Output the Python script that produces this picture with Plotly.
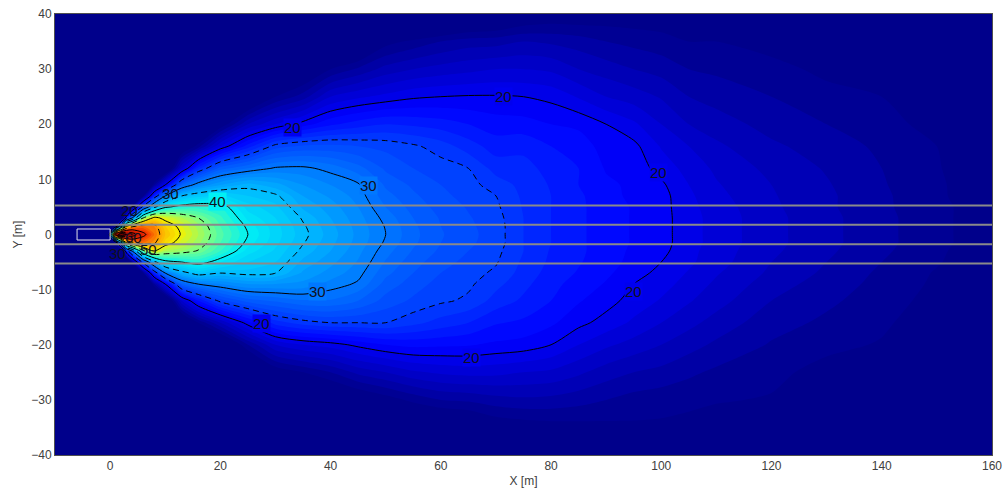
import numpy as np
import plotly.graph_objects as go

x_m = [-10, -0.5, 0.5, 1, 2, 3, 4, 6, 8, 10, 13, 16, 20, 25, 30, 35, 40, 45, 50, 55, 60, 65, 70, 75, 80, 85, 90, 95, 100, 105, 110, 120, 130, 140, 150, 160]
y_m = [40, 35, 30, 25, 20, 16, 12, 9, 7, 5, 3, 1.5, 0, -1.5, -3, -5, -7, -9, -12, -16, -20, -25, -30, -35, -40]

# level (dB) read at each y_m, one row for each x_m
level_by_x = [
 [5,5,5,5,5,5,5,5,5,5,5,5,5, 5,5,5,5,5,5,5,5,5,5,5,5],
 [5,5,5,5,5,5,5,5,5,5,5,5,5, 5,5,5,5,5,5,5,5,5,5,5,5],
 [5,5,5,5,5,5,5,5,5,5,5,8,50, 8,5,5,5,5,5,5,5,5,5,5,5],
 [5,5,5,5,5,5,5,5,5,5,5,16,65, 16,5,5,5,5,5,5,5,5,5,5,5],
 [5,5,5,5,5,5,5,5,5,5,10,32,75, 32,10,5,5,5,5,5,5,5,5,5,5],
 [5,5,5,5,5,5,5,5,5,8,23,50,70, 50,23,8,5,5,5,5,5,5,5,5,5],
 [5,5,5,5,5,5,5,5,5,15,30,54,68, 54,30,15,5,5,5,5,5,5,5,5,5],
 [5,5,5,5,5,5,5,8,14,26,45,57,61, 57,44,26,14,8,5,5,5,5,5,5,5],
 [5,5,5,5,5,5,8,15,23,34,51,56,57, 55.5,50,34,23,15,8,5,5,5,5,5,5],
 [5,5,5,5,5,6,11,20,30,39.5,49,52,53, 51.5,47,39,30,20,11,6,5,5,5,5,5],
 [5,5,5,5,6,12,18,28,35,41,47,49,49.7, 48.5,46,40,34,28,18,11,6,5,5,5,5],
 [5,5,5,6,10,14.5,23.5,31,36.5,41.5,45,46.5,47, 46.3,44.8,41,36,30,22,14,9,5,5,5,5],
 [5,5,6,8,13,19,27.5,33,37.3,41,42.3,43,43.4, 43,42,39,35,31,25.5,17,11,7,5,5,5],
 [5,6,8,11,17,22.5,29,34.5,36,37.5,38.7,39.6,40, 39.5,38.5,37,35.5,32,27.5,20.6,15,10,7,5,5],
 [6,8,10,14,19,25.5,30.2,33.4,35.3,36.3,37,37.4,37.5, 37.3,36.8,36,35,32,28.2,23.5,18,13,9,6,5],
 [6,9,12,15.5,20.5,26.2,30.3,32,33,33.8,34.8,35.2,35.4, 35.1,34.6,33.7,32.8,31.7,28.9,24.5,19,14,10.5,7.5,5],
 [6,9,14,18,21.8,26.3,29.6,31,31.8,32.5,33,33.3,33.5, 33.3,33,32.3,31.6,30.6,28.9,25,19.5,15,11.5,8,6],
 [7,11,15.2,18.8,22.5,26,28.4,30.2,30.6,31,31.4,31.6,31.7, 31.6,31.3,30.9,30.4,29.8,28,25,20.3,16.3,12.5,9,6],
 [8,13.5,16.4,19.3,23,25.7,26.8,27.8,28.4,29,29.6,29.9,30, 29.8,29.4,28.9,28.3,27.6,26.6,25,21,17,13.4,10,7],
 [9,14.3,17,19.8,22.8,25.2,26,26.8,27.2,27.6,28,28.2,28.3, 28.2,27.9,27.4,27,26.5,25.8,24.3,21.3,17.8,14.3,11,8],
 [10,15,17.4,20,22.5,24.5,25.5,26,26.3,26.6,26.9,27,27.1, 27,26.8,26.4,26,25.6,25.2,23.6,21.2,18.2,15,11.5,9],
 [11,15.5,17.7,20.1,22,23.5,25,25.4,25.6,25.9,26.1,26.2,26.3, 26.2,26,25.7,25.4,25.2,24.8,23,21.1,18.4,15.2,12,9.5],
 [11.5,15.6,18,20.1,21.5,22.5,23.6,24.5,25,25.2,25.4,25.5,25.5, 25.5,25.3,25.1,24.8,24.3,23.6,22.1,20.8,18.3,15.6,13,10],
 [12.5,16,18,20,21.4,22.7,23.4,23.7,23.8,23.9,24,24,24, 24,24,23.8,23.6,23.3,22.8,21.8,20.6,18,15.8,13.3,11],
 [13,15.8,17.8,19.7,21,22,22.6,22.9,23,23,23,23,23, 23,22.9,22.8,22.6,22.3,22,21.2,20,17.8,15.7,13.5,11.5],
 [13,15.5,17,18.9,20.8,21.5,22,22,22.2,22.2,22.2,22.2,22.2, 22.2,22.2,22.1,21.9,21.6,21.1,20.3,19,17.2,15.4,13.6,12],
 [13.2,15,16.5,18,20,20.6,20.9,21.2,21.3,21.5,21.5,21.5,21.5, 21.5,21.5,21.4,21.2,20.9,20.4,19.6,18.2,16.5,15,13.7,12],
 [13.2,14.7,16,17.5,19.2,20.3,20.6,20.8,20.8,20.9,20.9,20.9,20.9, 20.9,20.8,20.7,20.4,20,19.6,18.8,17.6,16,14.6,13.8,12],
 [13.2,14.4,15.6,16.9,18,18.9,19.6,20.2,20.4,20.4,20.4,20.4,20.4, 20.4,20.3,20,19.7,19.4,18.9,18,17,15.7,14.4,13.8,12],
 [13,14,15,16,17,18,18.6,19,19.2,19.3,19.4,19.4,19.4, 19.4,19.3,19.2,18.9,18.6,18.1,17.3,16.4,15.2,14.3,13.6,12],
 [13,14,14.8,15.6,16.5,17.2,17.8,18.1,18.3,18.5,18.6,18.6,18.6, 18.6,18.5,18.4,18.1,17.8,17.4,16.6,15.8,14.8,14.1,13.4,12],
 [12,13.5,14.4,15,15.6,16.2,16.7,17,17.1,17.2,17.3,17.3,17.3, 17.3,17.2,17,16.8,16.5,16,15.4,14.9,14.3,13.9,12.8,11.5],
 [11,12.5,13.7,14.4,15,15.5,15.9,16.1,16.2,16.2,16.3,16.3,16.3, 16.3,16.2,16,15.8,15.5,15.2,14.8,14.3,13.6,13,12,11],
 [10,11.5,13,14,14.5,14.8,15,15.1,15.2,15.2,15.3,15.3,15.3, 15.3,15.2,15,14.8,14.7,14.5,14.2,13.9,13,12,11,10],
 [9,10,11.5,12.5,13.5,14,14.1,14.2,14.2,14.3,14.3,14.3,14.3, 14.3,14.2,14.1,13.9,13.8,13.6,13.3,12.8,12,11,10,9],
 [8,9,10,11,12,12.5,13,13.1,13.2,13.3,13.3,13.3,13.3, 13.3,13.2,13.1,13,12.8,12.6,12.2,11.8,11,10,9,8],
]

road_lines_y = [5.25, 1.75, -1.75, -5.25]
road_x = [-10, 160]
source_box_x = [-6, 0, 0, -6, -6]
source_box_y = [-1, -1, 1, 1, -1]

# contour label text and position, with the local fill behind the label
label_text = ["20", "20", "20", "20", "20", "20", "20", "30", "30", "30", "30", "40", "60", "50"]
label_x = [71.3, 33, 99.5, 95, 65.5, 27.4, 3.6, 46.8, 37.7, 10.9, 1.4, 19.4, 4.2, 6.9]
label_y = [25, 19.5, 11.3, -10.3, -22.4, -16.2, 4.4, 8.8, -10.4, 7.5, -3.4, 5.9, -0.6, -2.7]
label_bg = ["rgb(0,0,240)", "rgb(0,0,240)", "rgb(0,0,240)", "rgb(0,0,240)", "rgb(0,0,240)", "rgb(0,0,240)",
            "rgba(0,0,0,0)", "rgb(0,120,255)", "rgb(0,120,255)", "rgba(0,0,0,0)", "rgba(0,0,0,0)",
            "rgb(0,240,245)", "rgba(0,0,0,0)", "rgba(0,0,0,0)"]

Z_MIN, Z_MAX = 14, 70
stops = [
    (14, "rgb(0,0,139)"), (17, "rgb(0,0,190)"), (20, "rgb(0,0,240)"), (21, "rgb(0,0,255)"),
    (25, "rgb(0,60,255)"), (30, "rgb(0,120,255)"), (35, "rgb(0,185,255)"), (40, "rgb(0,240,245)"),
    (45, "rgb(120,255,135)"), (50, "rgb(245,240,0)"), (55, "rgb(255,160,0)"), (60, "rgb(240,40,0)"),
    (70, "rgb(128,0,0)"),
]
colorscale = [[(v - Z_MIN) / (Z_MAX - Z_MIN), c] for v, c in stops]

z = np.array(level_by_x, dtype=float).T[::-1]
y = y_m[::-1]

fig = go.Figure()
fig.add_trace(go.Contour(
    x=x_m, y=y, z=z, zmin=Z_MIN, zmax=Z_MAX, autocontour=False,
    contours=dict(coloring="fill", start=14, end=70, size=1.0),
    colorscale=colorscale, showscale=False, line=dict(width=0, smoothing=0.8), hoverinfo="skip",
))
fig.add_trace(go.Contour(
    x=x_m, y=y, z=z, autocontour=False,
    contours=dict(coloring="none", start=20, end=70, size=10),
    line=dict(color="black", width=1, dash="solid", smoothing=0.8), showscale=False, hoverinfo="skip",
))
fig.add_trace(go.Contour(
    x=x_m, y=y, z=z, autocontour=False,
    contours=dict(coloring="none", start=25, end=65, size=10),
    line=dict(color="black", width=1, dash="6px,4px", smoothing=0.8), showscale=False, hoverinfo="skip",
))
for yy in road_lines_y:
    fig.add_trace(go.Scatter(x=road_x, y=[yy, yy], mode="lines", line=dict(color="#8a8a8a", width=2), hoverinfo="skip"))
fig.add_trace(go.Scatter(x=source_box_x, y=source_box_y, mode="lines", line=dict(color="#e0e0ec", width=1), hoverinfo="skip"))

annotations = [
    dict(x=lx, y=ly, xref="x", yref="y", text=t, showarrow=False, bgcolor=bg, borderpad=0,
         xanchor="center", yanchor="middle",
         font=dict(family="Liberation Sans", size=15, color="#101020"))
    for t, lx, ly, bg in zip(label_text, label_x, label_y, label_bg)
]

axis = dict(showgrid=False, zeroline=False, mirror=True, showline=True, linecolor="#505050", linewidth=1,
            ticks="", automargin=False, tickfont=dict(family="Liberation Sans", size=12, color="#404040"),
            title_font=dict(family="Liberation Sans", size=12, color="#404040"))
fig.update_layout(
    width=1006, height=497, showlegend=False, paper_bgcolor="white", plot_bgcolor="rgb(0,0,139)",
    margin=dict(l=55, r=14, t=14, b=42), annotations=annotations,
    xaxis=dict(range=[-10, 160], tickvals=list(range(0, 161, 20)), title=dict(text="X [m]", standoff=4), **axis),
    yaxis=dict(range=[-40, 40], tickvals=list(range(-40, 41, 10)), title=dict(text="Y [m]", standoff=6), **axis),
)
fig.write_html("out.html", config={"displayModeBar": False},
               post_script="document.body.style.margin='0';document.documentElement.style.overflow='hidden';")
